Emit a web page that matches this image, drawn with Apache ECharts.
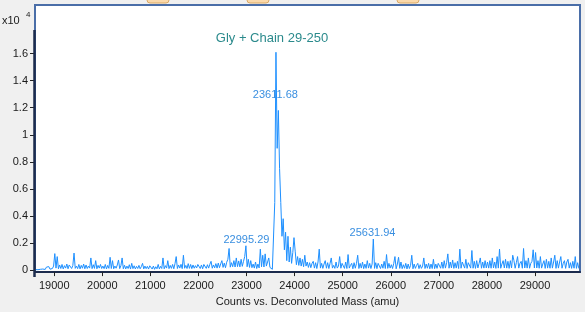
<!DOCTYPE html>
<html><head><meta charset="utf-8">
<script src="https://cdn.jsdelivr.net/npm/echarts@6/dist/echarts.min.js"></script>
<style>html,body{margin:0;padding:0;background:#f0f0f0;}#c{width:585px;height:312px;}</style>
</head><body><div id="c"></div>
<script>
// Deconvoluted spectrum, counts sampled every 25 amu starting at 18612 amu
const startMass = 18612;
const massStep = 25;
const s18 = [40,120,30,160,60,200,80,150,50,220,90,260,70,200,120,300];
const s19 = [1220,150,1000,100,380,120,420,90,330,150,450,100,380,500,120,340,1260,130,300,110,420,90,350,140,450,100,380,120,300,150,900,110,400,130,700,100,350,150,420,120];
const s20 = [300,110,420,90,350,130,950,120,700,100,300,140,380,750,110,330,900,100,360,90,300,120,400,80,500,110,320,90,280,120,350,100,260,500,90,300,110,280,80,320];
const s21 = [260,80,300,60,250,100,420,90,280,120,900,100,330,150,700,110,350,130,420,100,480,1000,120,380,150,430,110,1100,140,350,120,480,130,420,110,380,140,330,160,420];
const s22 = [300,120,380,100,420,500,130,400,150,430,650,140,380,170,480,150,520,180,460,700,200,520,180,580,800,1600,220,550,250,700,230,900,260,680,240,800,280,650,1000,1800];
const s23 = [250,800,200,700,180,450,150,600,120,450,160,1550,250,1100,230,1200,300,600,900,200,120,60,40,5000,16100,9000,11800,7500,5000,2500,3800,1500,2800,700,2500,600,1700,500,1300,2400];
const s24 = [1400,400,1000,350,900,300,800,250,1100,300,600,200,550,180,500,650,150,550,120,600,1550,150,500,130,450,700,140,550,120,500,900,150,350,130,600,150,300,1000,140,500];
const s25 = [450,130,600,120,1150,150,350,500,100,550,140,500,1100,120,500,150,600,110,450,130,700,150,500,120,450,2300,130,550,110,500,600,120,450,140,650,120,1150,130,500,150];
const s26 = [400,120,500,1000,100,450,950,130,600,110,400,140,500,90,450,120,350,1100,100,450,130,350,500,110,400,130,300,900,120,450,140,500,100,450,120,800,110,450,130,500];
const s27 = [500,140,600,130,700,150,550,1200,140,600,160,750,130,550,150,650,120,1550,140,600,700,150,800,130,550,600,150,1450,140,650,130,700,160,500,900,140,600,150,700,160];
const s28 = [600,150,700,140,900,160,600,130,1000,150,1550,140,450,700,160,800,150,650,130,700,160,1100,700,140,550,1000,150,500,650,140,1600,160,700,150,900,140,500,650,1500,160];
const s29 = [1300,160,700,140,1000,150,450,700,130,800,150,650,140,900,150,600,1100,130,700,150,600,1000,140,500,700,130,600,800,150,550,130,650,140,1000,130,550,120];

const xTicks = [19000,20000,21000,22000,23000,24000,25000,26000,27000,28000,29000];
const yTicks = [0,2000,4000,6000,8000,10000,12000,14000,16000];

const peakTitle = 'Gly + Chain 29-250';
const peakLabels = ['23611.68','22995.29','25631.94'];

const counts = [].concat(s18,s19,s20,s21,s22,s23,s24,s25,s26,s27,s28,s29);
const points = counts.map((c,i)=>[startMass + i*massStep, c]);

const FONT = 'Liberation Sans, Arial, sans-serif';
const chart = echarts.init(document.getElementById('c'), null, {renderer:'canvas'});
chart.setOption({
  animation:false,
  backgroundColor:'#f0f0f0',
  grid:{left:35,right:5,top:5,bottom:36,show:true,backgroundColor:'#ffffff',borderColor:'#4a6ea8',borderWidth:2},
  xAxis:{type:'value',min:18600,max:29936,
    axisLine:{show:true,onZero:false,lineStyle:{color:'#1c2b4d',width:2}},
    axisTick:{show:true,customValues:xTicks,length:4,lineStyle:{color:'#222'}},
    axisLabel:{customValues:xTicks,color:'#1a1a1a',fontSize:11,fontFamily:FONT,margin:8,formatter:v=>String(v)},
    splitLine:{show:false},
    name:'Counts vs. Deconvoluted Mass (amu)',nameLocation:'middle',nameGap:21,
    nameTextStyle:{color:'#1a1a1a',fontSize:11,fontFamily:FONT}},
  yAxis:{type:'value',min:-146,max:19592,
    axisLine:{show:false},
    axisTick:{show:true,customValues:yTicks,length:5,lineStyle:{color:'#222'}},
    axisLabel:{customValues:yTicks,color:'#1a1a1a',fontSize:11,fontFamily:FONT,margin:7,
      formatter:v=>String(+(v/10000).toFixed(1))},
    splitLine:{show:false}},
  series:[{type:'line',data:points,symbol:'none',showSymbol:false,
    lineStyle:{color:'#1e90ff',width:1},
    markPoint:{symbol:'circle',symbolSize:0,silent:true,
      label:{show:true,position:'inside',fontFamily:FONT,fontSize:11,color:'#3a8fe0'},
      data:[
        {coord:[23529,17116],label:{formatter:peakTitle,color:'#2b8a8c',fontSize:13}},
        {coord:[23600,12964],label:{formatter:peakLabels[0]}},
        {coord:[22998,2258],label:{formatter:peakLabels[1]}},
        {coord:[25620,2768],label:{formatter:peakLabels[2]}}
      ]}}],
  graphic:[
    {type:'line',z:100,shape:{x1:34.5,y1:30,x2:34.5,y2:277},style:{stroke:'#1c2b4d',lineWidth:2.5}},
    {type:'text',z:100,style:{text:'x10',x:2,y:15,font:'11px '+FONT,fill:'#1a1a1a'}},
    {type:'text',z:100,style:{text:'4',x:26,y:11,font:'8px '+FONT,fill:'#1a1a1a'}},
    {type:'rect',z:100,shape:{x:147,y:-5,width:22,height:8,r:3},style:{fill:'#fbd9aa',stroke:'#d9a866',lineWidth:1}},
    {type:'rect',z:100,shape:{x:247,y:-5,width:22,height:8,r:3},style:{fill:'#fbd9aa',stroke:'#d9a866',lineWidth:1}},
    {type:'rect',z:100,shape:{x:397,y:-5,width:22,height:8,r:3},style:{fill:'#fbd9aa',stroke:'#d9a866',lineWidth:1}}
  ]
});
</script></body></html>
